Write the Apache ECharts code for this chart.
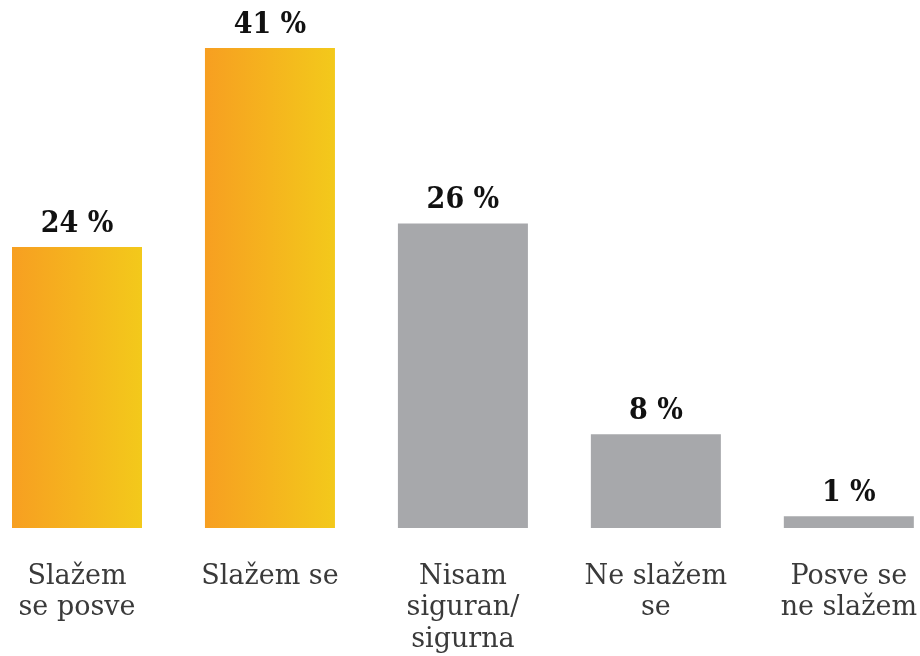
<!DOCTYPE html>
<html>
<head>
<meta charset="utf-8">
<script src="https://cdn.jsdelivr.net/npm/echarts@6/dist/echarts.min.js"></script>
<style>html,body{margin:0;padding:0;background:#fff}#c{width:920px;height:656px}</style>
</head>
<body>
<div id="c"></div>
<script>
const categories = ["Slažem\nse posve", "Slažem se", "Nisam\nsiguran/\nsigurna", "Ne slažem\nse", "Posve se\nne slažem"];
const values = [24, 41, 26, 8, 1];
const highlighted = [true, true, false, false, false];

const orange = {
  type: 'linear', x: 0, y: 0, x2: 1, y2: 0,
  colorStops: [{offset: 0, color: '#f79f21'}, {offset: 1, color: '#f3c91b'}]
};
const gray = '#a7a8ab';

const chart = echarts.init(document.getElementById('c'), null, {renderer: 'canvas'});
chart.setOption({
  animation: false,
  grid: {left: 77, right: 70, top: 48, bottom: 128, containLabel: false},
  xAxis: {
    type: 'category',
    data: categories,
    boundaryGap: false,
    axisLine: {show: false},
    axisTick: {show: false},
    axisLabel: {
      interval: 0,
      margin: 33,
      fontFamily: 'DejaVu Serif',
      fontSize: 27,
      lineHeight: 31.5,
      color: '#3a3a3a',
      verticalAlign: 'top'
    }
  },
  yAxis: {
    type: 'value', min: 0, max: 41,
    show: false,
    splitLine: {show: false}
  },
  series: [{
    type: 'bar',
    barWidth: 130,
    data: values.map((v, i) => ({value: v, itemStyle: {color: highlighted[i] ? orange : gray}})),
    label: {
      show: true,
      position: 'top',
      distance: 8,
      formatter: p => p.value + ' %',
      fontFamily: '"DejaVu Serif Condensed", "DejaVu Serif"',
      fontWeight: 'bold',
      fontSize: 30,
      color: '#111'
    }
  }]
});
</script>
</body>
</html>
